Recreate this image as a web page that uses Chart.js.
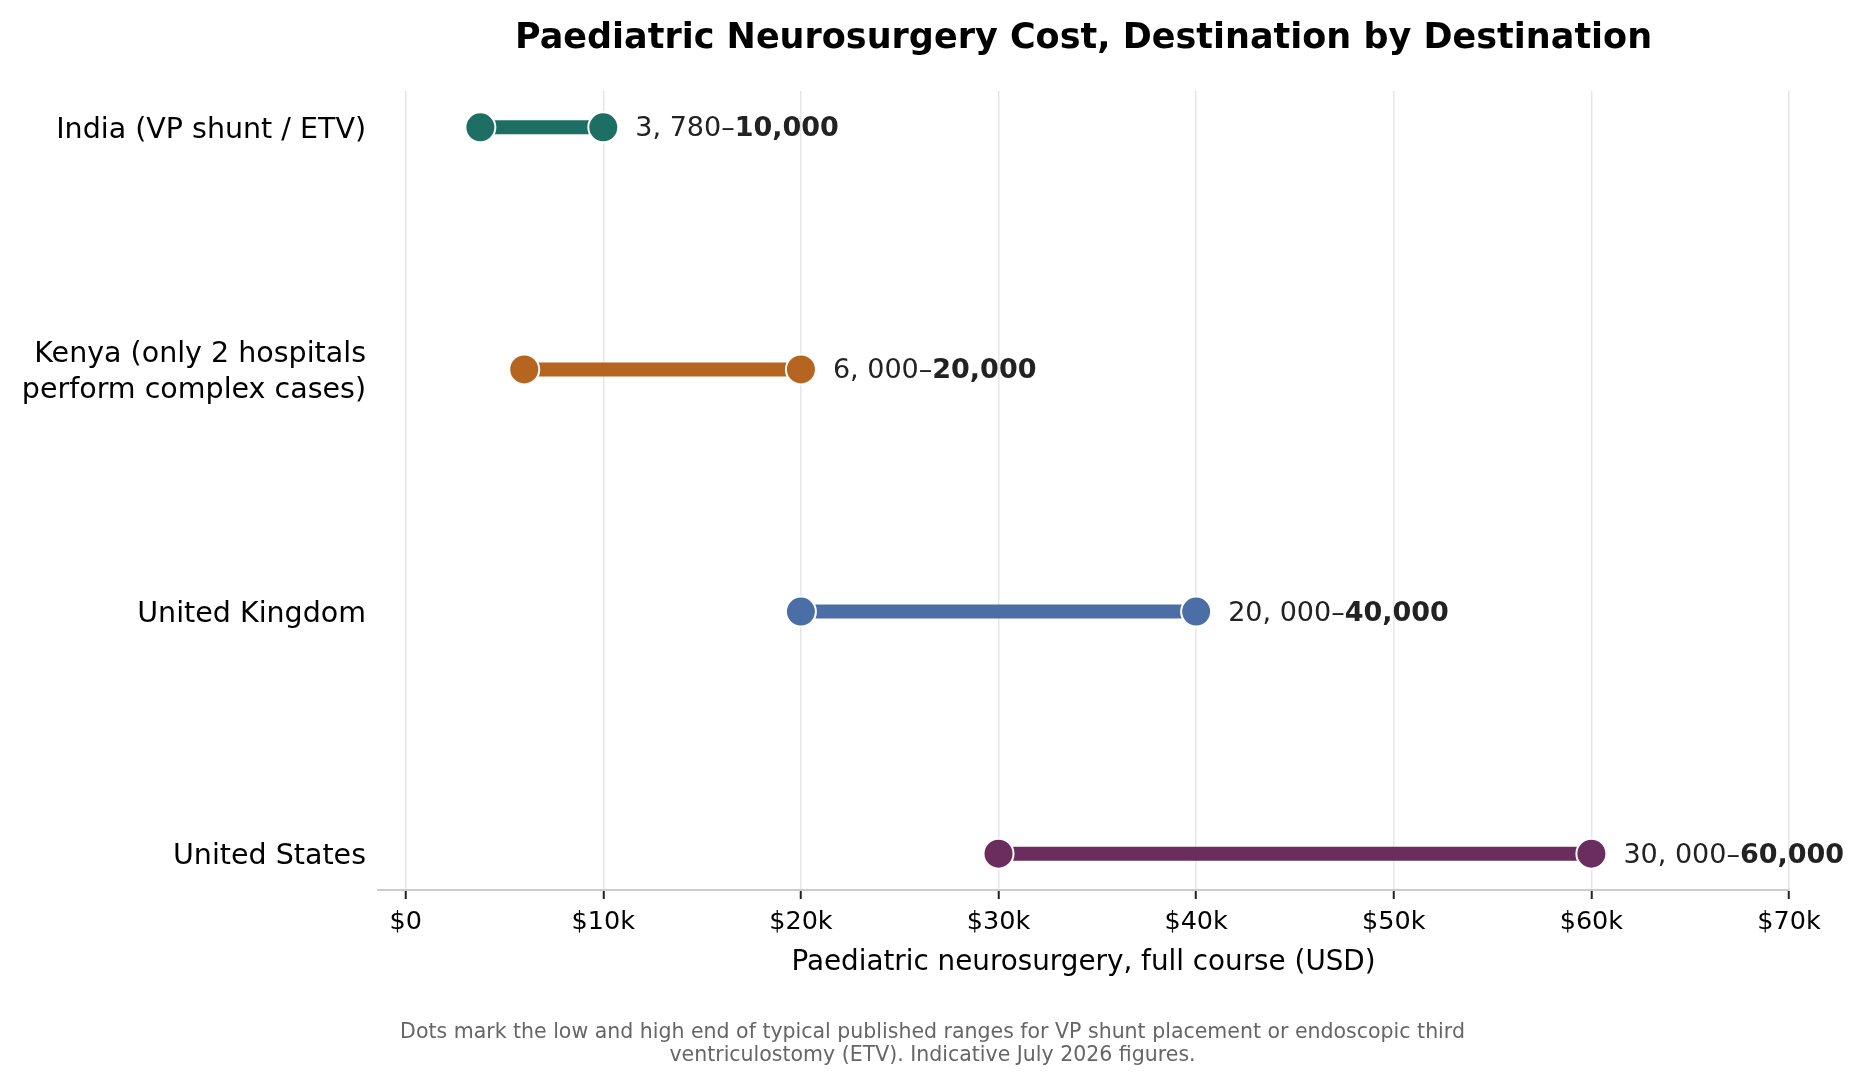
<!DOCTYPE html>
<html>
<head>
<meta charset="utf-8">
<script src="https://cdn.jsdelivr.net/npm/chart.js@4/dist/chart.umd.min.js"></script>
<style>
  html, body { margin: 0; padding: 0; background: #fff; }
  #wrap { width: 1865px; height: 1083px; position: relative; }
</style>
</head>
<body>
<div id="wrap"><canvas id="c"></canvas></div>
<script>
// ---- data ----
const categories = ["India (VP shunt / ETV)", "Kenya (only 2 hospitals\nperform complex cases)", "United Kingdom", "United States"];
const lowCost  = [3780, 6000, 20000, 30000];
const highCost = [10000, 20000, 40000, 60000];
const xTickValues = [0, 10000, 20000, 30000, 40000, 50000, 60000, 70000];
const xTickLabels = ["$0", "$10k", "$20k", "$30k", "$40k", "$50k", "$60k", "$70k"];
const titleText = "Paediatric Neurosurgery Cost, Destination by Destination";
const xTitleText = "Paediatric neurosurgery, full course (USD)";
const footnoteLines = [
  "Dots mark the low and high end of typical published ranges for VP shunt placement or endoscopic third",
  "ventriculostomy (ETV). Indicative July 2026 figures."
];

// ---- styles ----
const seriesColors = ["#1d6e63", "#b5651f", "#4a6ea5", "#6a2d5d"];
const FONT = "'DejaVu Sans', 'Liberation Sans', sans-serif";

const datasets = categories.map((cat, i) => ({
  label: cat,
  data: [{x: lowCost[i], y: i}, {x: highCost[i], y: i}],
  showLine: true,
  borderColor: seriesColors[i],
  backgroundColor: seriesColors[i],
  borderWidth: 14,
  borderCapStyle: 'butt',
  pointRadius: 15,
  pointHoverRadius: 15,
  pointBorderColor: '#ffffff',
  pointBorderWidth: 2,
  pointBackgroundColor: seriesColors[i]
}));

function fmtLow(v) {
  return v.toLocaleString('en-US').replace(/,/g, ', ');
}
function fmtHigh(v) {
  return v.toLocaleString('en-US');
}

const textPlugin = {
  id: 'textPlugin',
  afterDraw(chart) {
    const ctx = chart.ctx;
    const ca = chart.chartArea;
    ctx.save();
    // title
    ctx.fillStyle = '#000';
    ctx.font = "bold 35px " + FONT;
    ctx.textAlign = 'center';
    ctx.textBaseline = 'alphabetic';
    ctx.fillText(titleText, (ca.left + ca.right) / 2, 48);
    // x axis title
    ctx.font = "27.8px " + FONT;
    ctx.textBaseline = 'middle';
    ctx.fillText(xTitleText, (ca.left + ca.right) / 2, 963);
    // footnote
    ctx.fillStyle = '#666666';
    ctx.font = "20.5px " + FONT;
    footnoteLines.forEach((ln, k) => {
      ctx.fillText(ln, chart.width / 2, 1033 + k * 23);
    });
    // range annotations
    ctx.textAlign = 'left';
    ctx.textBaseline = 'alphabetic';
    chart.data.datasets.forEach((ds, i) => {
      const meta = chart.getDatasetMeta(i);
      const pt = meta.data[1];
      const x0 = pt.x + 32;
      const y0 = pt.y + 9;
      const a = fmtLow(lowCost[i]) + "\u2013";
      const b = fmtHigh(highCost[i]);
      ctx.fillStyle = '#222222';
      ctx.font = "27px " + FONT;
      ctx.fillText(a, x0, y0);
      const w = ctx.measureText(a).width;
      ctx.font = "bold 27px " + FONT;
      ctx.fillText(b, x0 + w, y0);
    });
    ctx.restore();
  }
};

new Chart(document.getElementById('c'), {
  type: 'scatter',
  data: { datasets },
  options: {
    responsive: true,
    maintainAspectRatio: false,
    animation: false,
    devicePixelRatio: 1,
    layout: { padding: { top: 91, right: 76, left: 0, bottom: 0 } },
    plugins: {
      legend: { display: false },
      tooltip: { enabled: false },
      title: { display: false }
    },
    scales: {
      x: {
        type: 'linear',
        min: -1400,
        max: 70000,
        afterBuildTicks(scale) { scale.ticks = xTickValues.map(v => ({value: v})); },
        afterFit(scale) { scale.height = 193; },
        ticks: {
          callback(value) { const k = xTickValues.indexOf(value); return k >= 0 ? xTickLabels[k] : ''; },
          font: { family: FONT, size: 25.5 },
          color: '#000',
          padding: 8,
          maxRotation: 0,
          autoSkip: false
        },
        grid: {
          color: '#e6e6e6',
          lineWidth: 1.5,
          drawTicks: true,
          tickLength: 9,
          tickColor: '#222',
          tickWidth: 2
        },
        border: { display: true, color: '#cccccc', width: 2 }
      },
      y: {
        type: 'linear',
        reverse: true,
        min: -0.15,
        max: 3.15,
        afterBuildTicks(scale) { scale.ticks = categories.map((c, i) => ({value: i})); },
        afterFit(scale) { scale.width = 378; },
        ticks: {
          callback(value) { const c = categories[value]; return c === undefined ? '' : c.split('\n'); },
          font: { family: FONT, size: 28.5, lineHeight: 1.25 },
          color: '#000',
          padding: 12,
          labelOffset: 3,
          autoSkip: false
        },
        grid: { display: false, drawTicks: false },
        border: { display: false }
      }
    }
  },
  plugins: [textPlugin]
});
</script>
</body>
</html>
